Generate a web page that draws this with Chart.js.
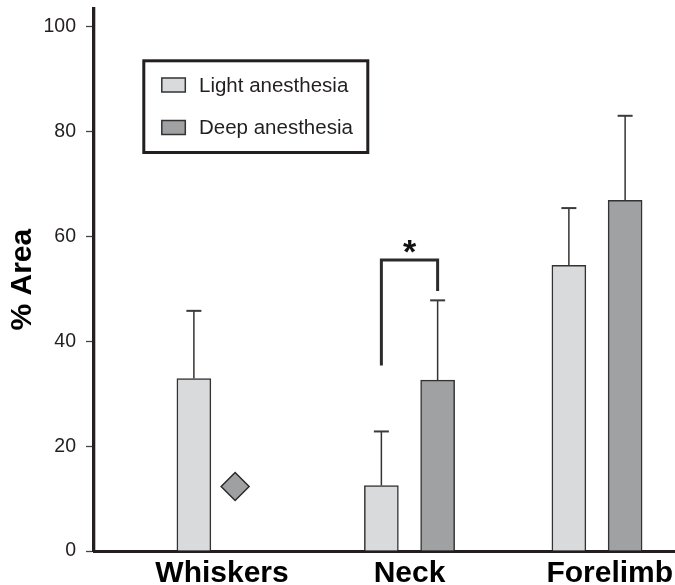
<!DOCTYPE html>
<html>
<head>
<meta charset="utf-8">
<script src="https://cdn.jsdelivr.net/npm/chart.js@4.4.0/dist/chart.umd.min.js"></script>
<style>
html,body{margin:0;padding:0;background:#fff;}
#wrap{width:675px;height:585px;}
</style>
</head>
<body>
<div id="wrap"><canvas id="c" width="675" height="585"></canvas></div>
<script>
// ---- data ----
const categories = ['Whiskers', 'Neck', 'Forelimb'];
const lightValues = [32.9, 12.5, 54.5];
const lightErrors = [12.9, 10.3, 10.9];
const deepValues = [null, 32.6, 66.9];
const deepErrors = [null, 15.2, 16.1];
const whiskersDeepMarker = [12.3];
const yTicks = [0, 20, 40, 60, 80, 100];
const bracketValues = [35.4, 55.5, 55.5, 49.6];
const starValue = 58.7;
const starLabel = '*';

// ---- styling ----
const FONT = "'Liberation Sans', Arial, Helvetica, sans-serif";
const INK = '#231f20';
const OFF = 0.15;

const errorBarPlugin = {
  id: 'errorBars',
  afterDatasetsDraw(chart) {
    const ctx = chart.ctx, ys = chart.scales.y;
    chart.data.datasets.forEach((ds, di) => {
      if (!ds.errors) return;
      const meta = chart.getDatasetMeta(di);
      meta.data.forEach((el, i) => {
        const pt = ds.data[i];
        const e = ds.errors[i];
        if (!pt || pt.y == null || e == null) return;
        const top = ys.getPixelForValue(pt.y + e);
        ctx.save();
        ctx.strokeStyle = '#333';
        ctx.lineWidth = 1.5;
        ctx.beginPath();
        ctx.moveTo(el.x, el.y);
        ctx.lineTo(el.x, top);
        ctx.stroke();
        ctx.lineWidth = 2;
        ctx.strokeStyle = '#3a3a3a';
        ctx.beginPath();
        ctx.moveTo(el.x - 7.5, top);
        ctx.lineTo(el.x + 7.5, top);
        ctx.stroke();
        ctx.restore();
      });
    });
  }
};

const starPlugin = {
  id: 'star',
  afterDatasetsDraw(chart) {
    const ctx = chart.ctx, xs = chart.scales.x, ys = chart.scales.y;
    const size = 34;
    ctx.save();
    ctx.fillStyle = '#111';
    ctx.font = 'bold ' + size + 'px ' + FONT;
    ctx.textAlign = 'center';
    ctx.textBaseline = 'alphabetic';
    ctx.fillText(starLabel, xs.getPixelForValue(1), ys.getPixelForValue(starValue) + 0.57 * size);
    ctx.restore();
  }
};

const boxLegend = {
  id: 'boxLegend',
  afterDraw(chart) {
    const ctx = chart.ctx;
    const items = chart.data.datasets.filter(d => d.inLegend);
    ctx.save();
    ctx.lineWidth = 3;
    ctx.strokeStyle = INK;
    ctx.strokeRect(143.8, 60.8, 224, 91.7);
    items.forEach((d, i) => {
      const cy = 85 + i * 42.5;
      ctx.fillStyle = d.backgroundColor;
      ctx.fillRect(161.8, cy - 7, 23.5, 14);
      ctx.lineWidth = 1.5;
      ctx.strokeStyle = '#333';
      ctx.strokeRect(161.8, cy - 7, 23.5, 14);
      ctx.fillStyle = INK;
      ctx.font = '20.5px ' + FONT;
      ctx.textBaseline = 'middle';
      ctx.textAlign = 'left';
      ctx.fillText(d.label, 199, cy + 1);
    });
    ctx.restore();
  }
};

new Chart(document.getElementById('c'), {
  type: 'bar',
  data: {
    datasets: [
      {
        type: 'bar',
        label: 'Light anesthesia',
        inLegend: true,
        data: categories.map((c, i) => ({ x: i - OFF, y: lightValues[i] })),
        errors: lightErrors,
        backgroundColor: '#d9dadc',
        borderColor: '#333',
        borderWidth: 1.5,
        borderSkipped: 'bottom',
        grouped: false,
        barThickness: 34
      },
      {
        type: 'bar',
        label: 'Deep anesthesia',
        inLegend: true,
        data: categories.map((c, i) => ({ x: i + OFF, y: deepValues[i] })),
        errors: deepErrors,
        backgroundColor: '#a0a1a3',
        borderColor: '#333',
        borderWidth: 1.5,
        borderSkipped: 'bottom',
        grouped: false,
        barThickness: 34
      },
      {
        type: 'scatter',
        label: 'Deep anesthesia (Whiskers)',
        data: whiskersDeepMarker.map(v => ({ x: 0.07, y: v })),
        pointStyle: 'rectRot',
        pointRadius: 14,
        backgroundColor: '#9fa0a2',
        borderColor: '#2b2b2b',
        borderWidth: 1.5,
        showLine: false
      },
      {
        type: 'line',
        label: 'Significance',
        data: bracketValues.map((v, i) => ({ x: i < 2 ? 1 - OFF : 1 + OFF, y: v })),
        borderColor: '#2b2b2b',
        borderWidth: 3,
        pointRadius: 0,
        fill: false,
        tension: 0,
        borderCapStyle: 'butt',
        borderJoinStyle: 'miter'
      }
    ]
  },
  options: {
    responsive: false,
    animation: false,
    devicePixelRatio: 1,
    layout: { autoPadding: false, padding: { top: 8.3, right: 0, bottom: 0, left: 0 } },
    plugins: { legend: { display: false }, tooltip: { enabled: false } },
    scales: {
      x: {
        type: 'linear',
        offset: false,
        min: -0.6827,
        max: 2.416,
        afterBuildTicks: s => { s.ticks = [{ value: 0 }, { value: 1 }, { value: 2.068 }]; },
        ticks: {
          callback: (v, i) => categories[i],
          font: { size: 30, weight: 'bold', family: FONT },
          color: '#000',
          padding: 5,
          maxRotation: 0,
          autoSkip: false
        },
        grid: { display: false, drawTicks: false, offset: false },
        border: { display: true, color: INK, width: 3 },
        afterFit: s => { s.height = 34; s.paddingLeft = 0; s.paddingRight = 0; }
      },
      y: {
        min: 0,
        max: 103.5,
        afterBuildTicks: s => { s.ticks = yTicks.map(v => ({ value: v })); },
        ticks: { font: { size: 19.5, family: FONT }, color: INK, padding: 10, autoSkip: false },
        grid: { display: true, drawOnChartArea: false, drawTicks: true, tickLength: 8, tickColor: '#444', tickWidth: 1.3 },
        border: { display: true, color: INK, width: 3.3 },
        title: { display: true, text: '% Area', font: { size: 30, weight: 'bold', family: FONT }, color: '#000', padding: { top: 5, bottom: 0 } },
        afterFit: s => { s.width = 94; s.paddingTop = 0; s.paddingBottom = 0; }
      }
    }
  },
  plugins: [errorBarPlugin, starPlugin, boxLegend]
});
</script>
</body>
</html>
